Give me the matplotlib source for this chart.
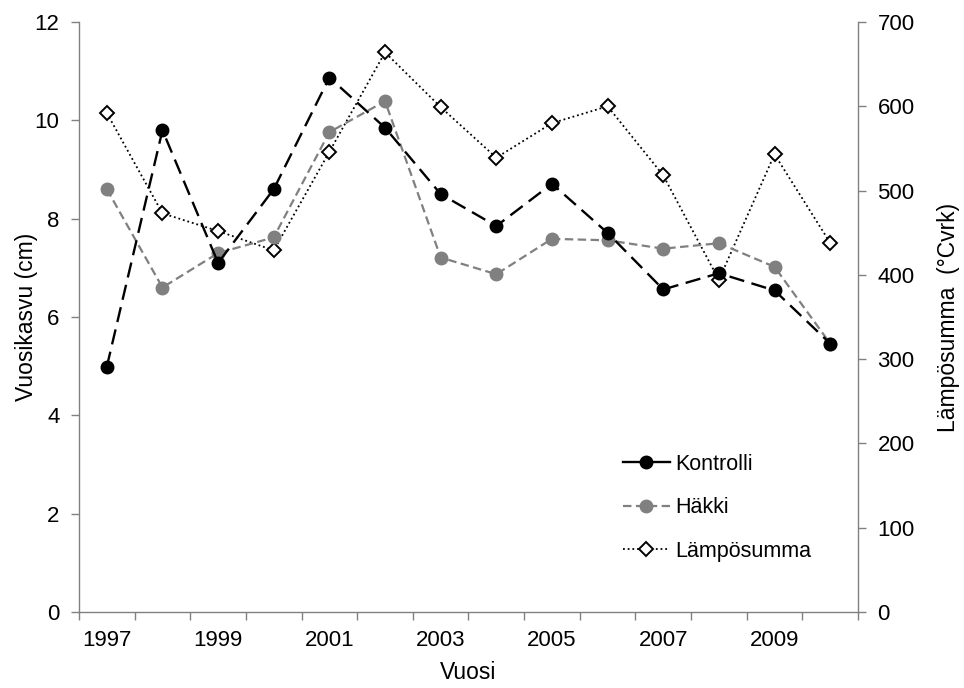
import matplotlib
matplotlib.use("Agg")
import matplotlib.pyplot as plt
from matplotlib.lines import Line2D

years = [1997, 1998, 1999, 2000, 2001, 2002, 2003, 2004, 2005, 2006, 2007, 2008, 2009, 2010]
kontrolli = [4.99, 9.80, 7.10, 8.60, 10.87, 9.85, 8.50, 7.85, 8.71, 7.71, 6.56, 6.89, 6.54, 5.46]
hakki = [8.60, 6.60, 7.30, 7.62, 9.76, 10.39, 7.21, 6.87, 7.59, 7.56, 7.39, 7.50, 7.02, 5.46]
lamposumma = [592, 473, 452, 429, 546, 664, 599, 539, 580, 600, 518, 394, 543, 438]
tick_labels = ["1997", "1999", "2001", "2003", "2005", "2007", "2009"]

plt.rcParams['font.family'] = ['Liberation Sans', 'DejaVu Sans']
FS = 16
LFS = 16.5
GRAY_AX = '#808080'

fig = plt.figure(figsize=(9.64, 6.88), dpi=100)
ax = fig.add_axes([79/964, 1-612/688, (858-79)/964, (612-22)/688])
ax2 = ax.twinx()

x = list(range(len(years)))

ax2.plot(x, lamposumma, color='black', lw=1.3, linestyle=(0, (1, 1.6)),
         marker='D', ms=7.5, mfc='white', mec='black', mew=1.4, label='Lämpösumma')
ax.plot(x, hakki, color='#808080', lw=1.6, linestyle=(0, (3.8, 2.0)),
        marker='o', ms=9, mfc='#808080', mec='#808080', label='Häkki')
ax.plot(x, kontrolli, color='black', lw=1.7, linestyle=(0, (6.5, 3.2)),
        marker='o', ms=9, mfc='black', mec='black', label='Kontrolli')

ax.set_zorder(ax2.get_zorder() + 1)
ax.patch.set_visible(False)

ax.set_xlim(-0.5, len(years) - 0.5)
ax.set_ylim(0, 12)
ax2.set_ylim(0, 700)
ax.set_yticks(range(0, 13, 2))
ax2.set_yticks(range(0, 701, 100))

# category boundaries as ticks, labels at every other category
ax.set_xticks([i - 0.5 for i in range(len(years) + 1)])
ax.set_xticklabels([])
ax.set_xticks(list(range(0, len(years), 2)), minor=True)
ax.set_xticklabels(tick_labels, minor=True)
ax.tick_params(axis='x', which='minor', length=0, labelsize=FS, pad=13)
ax.tick_params(axis='x', which='major', length=6, width=1, color=GRAY_AX, direction='out')
ax.tick_params(axis='y', length=6, width=1, color=GRAY_AX, labelsize=FS, pad=8)
ax2.tick_params(axis='y', length=6, width=1, color=GRAY_AX, labelsize=FS, pad=8)

for a in (ax, ax2):
    a.spines['top'].set_visible(False)
    for s in ('left', 'right', 'bottom'):
        a.spines[s].set_color(GRAY_AX)
        a.spines[s].set_linewidth(1)
ax.spines['right'].set_visible(False)
ax2.spines['left'].set_visible(False)
ax2.spines['bottom'].set_visible(False)

ax.set_xlabel('Vuosi', fontsize=LFS)
ax.set_ylabel('Vuosikasvu (cm)', fontsize=LFS)
ax2.set_ylabel('Lämpösumma  (°Cvrk)', fontsize=LFS)
ax.xaxis.set_label_coords(0.5, -0.083)
ax.yaxis.set_label_coords(-0.0526, 0.5)
ax2.yaxis.set_label_coords(1.1014, 0.5)

legend_handles = [
    Line2D([], [], color='black', lw=1.7, marker='o', ms=9, mfc='black', mec='black'),
    Line2D([], [], color='#808080', lw=1.6, linestyle=(0, (3.8, 2.0)),
           marker='o', ms=9, mfc='#808080', mec='#808080'),
    Line2D([], [], color='black', lw=1.3, linestyle=(0, (1, 1.6)),
           marker='D', ms=7.5, mfc='white', mec='black', mew=1.4),
]
legend_labels = ['Kontrolli', 'Häkki', 'Lämpösumma']
leg = ax.legend(legend_handles, legend_labels, loc='upper left', bbox_to_anchor=(0.687, 0.283),
                frameon=False, fontsize=15.5, handlelength=2.2, handletextpad=0.25,
                labelspacing=1.05, borderaxespad=0)

fig.savefig('out.png', dpi=100)
